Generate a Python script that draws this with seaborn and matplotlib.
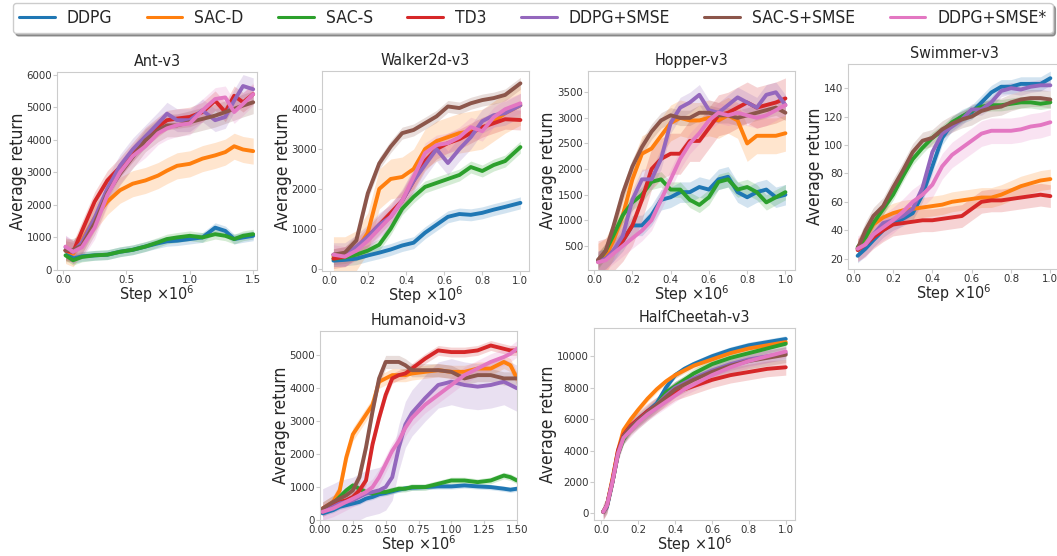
import numpy as np
import pandas as pd
import matplotlib
matplotlib.use("Agg")
import matplotlib.pyplot as plt
import seaborn as sns

sns.set_style("white", {"axes.edgecolor": "#cccccc", "xtick.bottom": True, "ytick.left": True})
plt.rcParams["font.family"] = ["DejaVu Sans"]
plt.rcParams["font.stretch"] = "condensed"

ALGOS = ["DDPG", "SAC-D", "SAC-S", "TD3", "DDPG+SMSE", "SAC-S+SMSE", "DDPG+SMSE*"]
COLORS = sns.color_palette("tab10", 7)

# ---- Ant-v3 ----
ant_steps = [0.02, 0.08, 0.15, 0.25, 0.35, 0.45, 0.55, 0.65, 0.75, 0.82, 0.9, 1.0, 1.1, 1.2, 1.28, 1.35, 1.42, 1.5]
ant = {
    "DDPG":       [600, 350, 420, 450, 470, 560, 620, 720, 820, 880, 900, 950, 1000, 1300, 1200, 950, 1000, 1050],
    "SAC-D":      [600, 500, 900, 1600, 2100, 2450, 2650, 2750, 2900, 3050, 3200, 3260, 3420, 3520, 3620, 3800, 3700, 3650],
    "SAC-S":      [450, 300, 400, 450, 470, 560, 620, 720, 850, 950, 1000, 1050, 1000, 1100, 1050, 950, 1050, 1100],
    "TD3":        [600, 550, 1200, 2100, 2750, 3160, 3620, 4080, 4400, 4600, 4650, 4700, 4850, 5200, 4850, 5350, 5150, 5400],
    "DDPG+SMSE":  [700, 550, 850, 1600, 2500, 3200, 3700, 4100, 4500, 4800, 4600, 4600, 4900, 4600, 4700, 5200, 5650, 5550],
    "SAC-S+SMSE": [600, 620, 750, 1430, 2350, 2960, 3470, 3980, 4290, 4440, 4440, 4540, 4640, 4740, 4850, 4950, 5050, 5150],
    "DDPG+SMSE*": [720, 560, 700, 1300, 2300, 3000, 3500, 3800, 4200, 4350, 4450, 4500, 4900, 5250, 5300, 4850, 5100, 5400],
}
ant_band = {"DDPG": 150, "SAC-D": 400, "SAC-S": 150, "TD3": 300, "DDPG+SMSE": 350, "SAC-S+SMSE": 350, "DDPG+SMSE*": 350}

# ---- Walker2d-v3 ----
walker_steps = [0.02, 0.08, 0.14, 0.2, 0.26, 0.32, 0.38, 0.44, 0.5, 0.56, 0.62, 0.68, 0.74, 0.8, 0.86, 0.92, 1.0]
walker = {
    "DDPG":       [200, 220, 250, 330, 400, 480, 580, 650, 900, 1100, 1300, 1370, 1350, 1400, 1480, 1550, 1650],
    "SAC-D":      [300, 300, 450, 900, 2000, 2250, 2300, 2500, 3000, 3200, 3300, 3400, 3450, 3500, 3700, 3900, 4100],
    "SAC-S":      [250, 280, 350, 450, 600, 1000, 1500, 1800, 2050, 2150, 2250, 2350, 2550, 2450, 2600, 2700, 3050],
    "TD3":        [250, 300, 500, 800, 1100, 1400, 1700, 2200, 2700, 3000, 3150, 3250, 3400, 3550, 3650, 3750, 3730],
    "DDPG+SMSE":  [350, 350, 550, 800, 1100, 1300, 1700, 2200, 2600, 3000, 2650, 3000, 3300, 3700, 3850, 3900, 4100],
    "SAC-S+SMSE": [350, 400, 710, 1890, 2640, 3060, 3400, 3480, 3650, 3820, 4070, 4030, 4150, 4230, 4280, 4360, 4650],
    "DDPG+SMSE*": [350, 300, 450, 700, 1000, 1300, 1700, 2300, 2900, 3100, 3150, 3300, 3550, 3450, 3800, 4000, 4150],
}
walker_band = {"DDPG": 150, "SAC-D": 500, "SAC-S": 150, "TD3": 250, "DDPG+SMSE": 300, "SAC-S+SMSE": 150, "DDPG+SMSE*": 250}

# ---- Hopper-v3 ----
hopper_steps = [0.02, 0.06, 0.1, 0.15, 0.2, 0.25, 0.3, 0.35, 0.4, 0.45, 0.5, 0.55, 0.6, 0.65, 0.7, 0.75, 0.8, 0.85, 0.9, 0.95, 1.0]
hopper = {
    "DDPG":       [200, 250, 400, 600, 900, 900, 1100, 1400, 1450, 1550, 1550, 1650, 1600, 1800, 1850, 1550, 1450, 1550, 1600, 1450, 1500],
    "SAC-D":      [200, 300, 600, 1100, 1800, 2300, 2400, 2650, 2900, 3000, 2950, 2950, 3000, 2950, 3050, 2950, 2500, 2650, 2650, 2650, 2700],
    "SAC-S":      [200, 400, 700, 1100, 1350, 1500, 1750, 1800, 1600, 1600, 1400, 1300, 1450, 1750, 1800, 1600, 1650, 1550, 1350, 1450, 1550],
    "TD3":        [200, 250, 400, 600, 900, 1400, 2000, 2200, 2300, 2300, 2550, 2550, 2800, 3050, 3100, 3200, 3300, 3200, 3250, 3300, 3380],
    "DDPG+SMSE":  [200, 250, 400, 700, 1400, 1800, 1800, 2200, 2900, 3200, 3300, 3450, 3150, 3100, 3250, 3400, 3300, 3200, 3450, 3500, 3250],
    "SAC-S+SMSE": [230, 400, 870, 1530, 2050, 2430, 2730, 2950, 3050, 3000, 3000, 3100, 3100, 3050, 3050, 3000, 3050, 3100, 3150, 3200, 3100],
    "DDPG+SMSE*": [180, 220, 350, 500, 650, 800, 1000, 1400, 1800, 2200, 2500, 2700, 2950, 3100, 3050, 3100, 3050, 3000, 3050, 3150, 3250],
}
hopper_band = {"DDPG": 200, "SAC-D": 350, "SAC-S": 150, "TD3": 400, "DDPG+SMSE": 200, "SAC-S+SMSE": 150, "DDPG+SMSE*": 200}

# ---- Swimmer-v3 ----
swimmer_steps = hopper_steps
swimmer = {
    "DDPG":       [22, 27, 33, 40, 45, 48, 52, 65, 85, 105, 115, 120, 123, 130, 137, 141, 141, 143, 143, 143, 147],
    "SAC-D":      [27, 35, 44, 49, 52, 54, 55, 56, 57, 58, 60, 61, 62, 63, 63, 65, 68, 71, 73, 75, 76],
    "SAC-S":      [28, 35, 45, 55, 65, 78, 90, 98, 105, 110, 116, 120, 124, 127, 128, 128, 129, 130, 130, 129, 130],
    "TD3":        [26, 30, 35, 40, 44, 45, 46, 47, 47, 48, 49, 50, 55, 60, 61, 61, 62, 63, 64, 65, 64],
    "DDPG+SMSE":  [27, 30, 37, 45, 47, 50, 55, 70, 95, 108, 113, 118, 125, 125, 130, 138, 140, 139, 141, 142, 142],
    "SAC-S+SMSE": [27, 40, 50, 57, 70, 82, 95, 103, 105, 111, 115, 118, 120, 124, 126, 127, 130, 132, 133, 133, 132],
    "DDPG+SMSE*": [27, 30, 37, 42, 47, 53, 60, 65, 72, 85, 93, 98, 103, 108, 110, 110, 110, 111, 113, 114, 116],
}
swimmer_band = {"DDPG": 5, "SAC-D": 7, "SAC-S": 4, "TD3": 8, "DDPG+SMSE": 4, "SAC-S+SMSE": 6, "DDPG+SMSE*": 9}

# ---- Humanoid-v3 ----
humanoid_steps = [0.02, 0.1, 0.15, 0.2, 0.25, 0.3, 0.35, 0.4, 0.45, 0.5, 0.55, 0.6, 0.65, 0.7, 0.8, 0.9, 1.0, 1.1, 1.2, 1.3, 1.4, 1.45, 1.5]
humanoid = {
    "DDPG":       [200, 300, 400, 450, 500, 550, 650, 700, 780, 820, 870, 920, 960, 980, 1000, 1020, 1020, 1050, 1020, 1000, 950, 920, 950],
    "SAC-D":      [350, 550, 900, 1900, 2600, 2900, 3200, 3500, 4200, 4300, 4400, 4400, 4400, 4450, 4500, 4550, 4500, 4500, 4600, 4600, 4800, 4700, 4300],
    "SAC-S":      [300, 500, 700, 900, 1050, 950, 850, 800, 850, 850, 900, 950, 950, 1000, 1000, 1100, 1200, 1200, 1150, 1200, 1350, 1300, 1200],
    "TD3":        [250, 450, 550, 600, 700, 900, 1200, 2300, 3100, 3800, 4300, 4400, 4450, 4600, 4900, 5150, 5100, 5100, 5150, 5300, 5200, 5150, 5150],
    "DDPG+SMSE":  [250, 400, 500, 550, 600, 700, 800, 850, 900, 1000, 1300, 2200, 2900, 3250, 3700, 4100, 4200, 4100, 4050, 4100, 4200, 4100, 4000],
    "SAC-S+SMSE": [350, 550, 650, 750, 900, 1300, 2200, 3300, 4300, 4800, 4800, 4800, 4700, 4550, 4550, 4550, 4500, 4300, 4400, 4400, 4300, 4300, 4300],
    "DDPG+SMSE*": [250, 350, 450, 550, 650, 750, 850, 1000, 1300, 1700, 2100, 2400, 2800, 3100, 3500, 3800, 4100, 4400, 4600, 4800, 4950, 5050, 5200],
}
humanoid_band = {"DDPG": 80, "SAC-D": 200, "SAC-S": 100, "TD3": 150, "DDPG+SMSE": 700, "SAC-S+SMSE": 200, "DDPG+SMSE*": 250}

# ---- HalfCheetah-v3 ----
cheetah_steps = [0.01, 0.03, 0.06, 0.09, 0.12, 0.16, 0.2, 0.25, 0.3, 0.35, 0.4, 0.45, 0.5, 0.6, 0.7, 0.8, 0.9, 1.0]
cheetah = {
    "DDPG":       [100, 400, 2000, 3800, 5000, 5500, 6000, 6500, 7000, 8000, 8800, 9200, 9500, 10000, 10400, 10700, 10900, 11100],
    "SAC-D":      [100, 500, 2200, 4000, 5300, 6000, 6600, 7300, 7900, 8400, 8800, 9100, 9400, 9800, 10200, 10500, 10700, 10900],
    "SAC-S":      [100, 500, 2000, 3800, 4700, 5400, 5900, 6400, 6900, 7700, 8100, 8500, 8900, 9500, 9900, 10200, 10500, 10800],
    "TD3":        [100, 500, 2100, 4000, 5000, 5600, 6000, 6500, 6900, 7300, 7700, 7900, 8100, 8500, 8800, 9000, 9200, 9300],
    "DDPG+SMSE":  [100, 500, 2000, 3800, 4900, 5500, 5900, 6400, 6900, 7500, 8000, 8300, 8600, 9100, 9500, 9800, 10000, 10200],
    "SAC-S+SMSE": [100, 500, 2000, 3800, 4900, 5500, 5900, 6400, 6900, 7400, 7900, 8200, 8500, 9000, 9400, 9700, 9900, 10100],
    "DDPG+SMSE*": [100, 500, 2000, 3800, 4800, 5300, 5800, 6300, 6700, 7100, 7500, 7900, 8200, 8800, 9300, 9700, 10000, 10300],
}
cheetah_band = {"DDPG": 200, "SAC-D": 200, "SAC-S": 300, "TD3": 500, "DDPG+SMSE": 400, "SAC-S+SMSE": 500, "DDPG+SMSE*": 400}

W, H = 1057, 556
fig = plt.figure(figsize=(W / 100, H / 100), dpi=100)


def add_ax(left, right, top, bottom):
    return fig.add_axes([left / W, 1 - bottom / H, (right - left) / W, (bottom - top) / H])


panels = [
    ("Ant-v3", ant_steps, ant, ant_band, (57, 257, 72, 270), (-0.047, 1.53), (0, 6080), np.arange(0, 1.6, 0.5), np.arange(0, 6001, 1000), "%.1f"),
    ("Walker2d-v3", walker_steps, walker, walker_band, (322, 529, 71, 271), (-0.04, 1.045), (-60, 4960), np.arange(0, 1.01, 0.2), np.arange(0, 4001, 1000), "%.1f"),
    ("Hopper-v3", hopper_steps, hopper, hopper_band, (588, 795, 71, 270), (-0.032, 1.05), (30, 3915), np.arange(0, 1.01, 0.2), np.arange(500, 3501, 500), "%.1f"),
    ("Swimmer-v3", swimmer_steps, swimmer, swimmer_band, (848, 1060, 64, 269), (-0.029, 1.049), (12.7, 157), np.arange(0, 1.01, 0.2), np.arange(20, 141, 20), "%.1f"),
    ("Humanoid-v3", humanoid_steps, humanoid, humanoid_band, (320, 517, 331, 520), (0, 1.5), (0, 5740), np.arange(0, 1.51, 0.25), np.arange(0, 5001, 1000), "%.2f"),
    ("HalfCheetah-v3", cheetah_steps, cheetah, cheetah_band, (594, 795, 328, 520), (-0.04, 1.05), (-420, 11800), np.arange(0, 1.01, 0.2), np.arange(0, 10001, 2000), "%.1f"),
]

for title, steps, means, bands, box, xlim, ylim, xt, yt, xfmt in panels:
    ax = add_ax(*box)
    rows = []
    for algo in ALGOS:
        for s, v in zip(steps, means[algo]):
            rows.append({"step": s, "ret": v, "algo": algo})
    df = pd.DataFrame(rows)
    for algo, c in zip(ALGOS, COLORS):
        m = np.array(means[algo], dtype=float)
        b = bands[algo]
        ax.fill_between(steps, m - b, m + b, color=c, alpha=0.2, lw=0)
    sns.lineplot(data=df, x="step", y="ret", hue="algo", hue_order=ALGOS, palette=COLORS,
                 lw=2.8, legend=False, ax=ax, sort=False)
    ax.set_xlim(*xlim)
    ax.set_ylim(*ylim)
    ax.set_xticks(xt)
    ax.set_xticklabels([xfmt % v for v in xt])
    ax.set_yticks(yt)
    ax.tick_params(labelsize=8.2, colors="#cccccc", labelcolor="#333333", length=3, width=0.8, pad=0.5)
    ax.set_title(title, fontsize=11.5, pad=4)
    ax.set_xlabel("Step $\\times10^6$", fontsize=11.5, labelpad=-1)
    ax.set_ylabel("Average return", fontsize=12.5, labelpad=0)

handles = [plt.Line2D([], [], color=c, lw=2.2) for c in COLORS]
fig.legend(handles, ALGOS, loc="upper left", bbox_to_anchor=(13 / W, 1 - 3 / H), ncol=7,
           fontsize=12.5, handlelength=2.05, handletextpad=0.7, columnspacing=1.98,
           frameon=True, shadow=True, borderpad=0.35, borderaxespad=0)

fig.savefig("out.png", dpi=100)
